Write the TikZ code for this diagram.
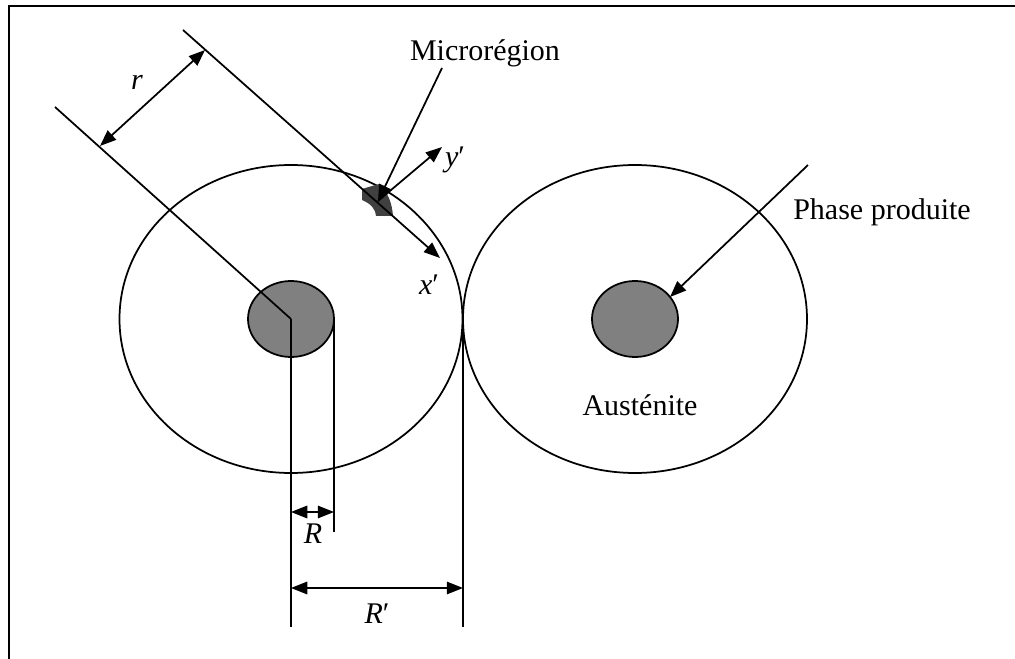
\documentclass[tikz,border=0pt]{standalone}
\usepackage{fontspec}
\setmainfont{Liberation Serif}
\usetikzlibrary{positioning, arrows.meta}
\definecolor{phasegray}{HTML}{808080}
\definecolor{microgray}{HTML}{404040}

\begin{document}
\begin{tikzpicture}[x=0.4pt, y=-0.4pt, line width=0.7pt,
    >={Triangle[length=6.5pt,width=5pt]},
    lbl/.style={inner sep=1pt, font=\fontsize{12}{14}\selectfont},
    dim/.style={<->}]
  \useasboundingbox (0,0) rectangle (1015,659);
  \draw[line width=1pt] (1015,6) -- (9,6) -- (9,659);

  % points
  \coordinate (c1) at (291,319);
  \coordinate (c2) at (635,319);
  \coordinate (edge) at (334,319);
  \coordinate (touch) at (463,319);
  \coordinate (micro) at (378,201);

  % grains
  \draw (c1) ellipse [x radius=171.5, y radius=154];
  \draw (c2) ellipse [x radius=172, y radius=154];
  \filldraw[fill=phasegray] (c1) ellipse [x radius=43, y radius=38];
  \filldraw[fill=phasegray] (c2) ellipse [x radius=43, y radius=38];
  \fill[microgray] (362,189) -- (379,184) .. controls (388,192) and (392,203) .. (393,216)
                   -- (376,216) .. controls (375,208) and (371,204) .. (362,200) -- cycle;

  % radial lines and r
  \coordinate (l1) at (55,107);
  \coordinate (l2) at (183,30);
  \coordinate (xend) at (440,258);
  \draw (l1) -- (c1);
  \draw[->] (l2) -- (xend);
  \coordinate (ra) at (100,146);
  \coordinate (rb) at (205,50);
  \draw[dim] (ra) -- (rb);
  \node[lbl] (rlab) at (137,82) {\textit{r}};

  % local axes
  \coordinate (yend) at (442,147);
  \draw[->] (micro) -- (yend);
  \node[lbl] (ylab) at (455,160) {\textit{y}′};
  \node[lbl] (xlab) at (429,285) {\textit{x}′};

  % labels
  \node[lbl] (mr) at (485,53) {Microrégion};
  \coordinate (mrfoot) at (442,68);
  \draw[->] (mrfoot) -- (micro);
  \node[lbl] (pp) at (882,212) {Phase produite};
  \coordinate (ppfoot) at (808,165);
  \coordinate (pptip) at (670,297);
  \draw[->] (ppfoot) -- (pptip);
  \node[lbl] (aus) at (640,405) {Austénite};

  % dimensions
  \draw (c1) -- (291,627);
  \draw (edge) -- (334,532);
  \draw (touch) -- (463,627);
  \coordinate (Ra) at (291,512);
  \coordinate (Rb) at (334,512);
  \draw[dim] (Ra) -- (Rb);
  \node[lbl] (Rlab) at (313,534) {\textit{R}};
  \coordinate (Rpa) at (291,588);
  \coordinate (Rpb) at (463,588);
  \draw[dim] (Rpa) -- (Rpb);
  \node[lbl] (Rplab) at (377,614) {\textit{R}′};
\end{tikzpicture}
\end{document}
